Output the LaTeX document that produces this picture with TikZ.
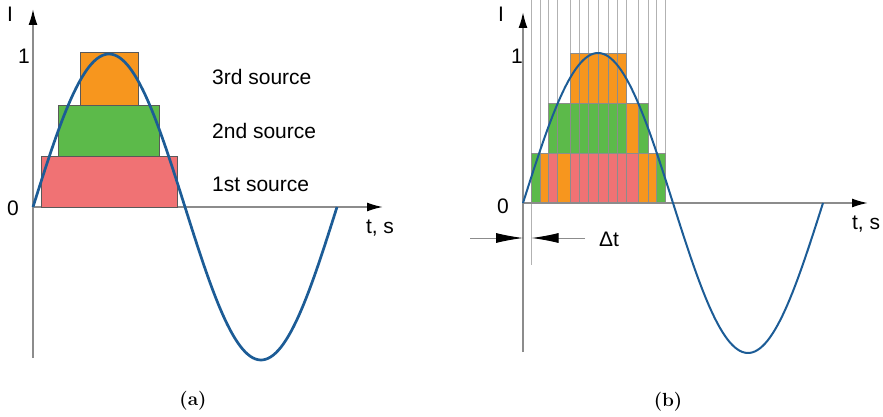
\documentclass[tikz,border=0pt]{standalone}
\usepackage{fontspec}
\setsansfont{Liberation Sans}
\usetikzlibrary{arrows.meta}
\definecolor{wavecol}{RGB}{28,92,150}
\definecolor{ora}{RGB}{247,150,30}
\definecolor{grn}{RGB}{92,186,74}
\definecolor{rd}{RGB}{240,114,116}
\definecolor{axgray}{RGB}{140,140,140}
\tikzset{
  axisline/.style={draw=axgray,line width=1.8pt,-{Latex[length=16pt,width=9pt,color=black]}},
  src/.style={draw=black!65,line width=1pt},
  cell/.style={draw=black!45,line width=1pt},
  gridline/.style={draw=black!30,line width=0.7pt},
  wave/.style={draw=wavecol,line width=2pt},
  lbl/.style={font=\sffamily\fontsize{21}{25}\selectfont,inner sep=0pt},
  dimline/.style={draw=axgray,line width=0.9pt,-{Latex[length=27pt,width=10pt,color=black]}},
  sublbl/.style={font=\bfseries\fontsize{19}{22}\selectfont,inner sep=0pt}
}
\begin{document}
\begin{tikzpicture}[x=1pt,y=-1pt]
\useasboundingbox (0,0) rectangle (883,417);
% (a) three sources
\draw[axisline] (33,358) -- (33,9);
\draw[axisline] (33,207) -- (383,207);
\draw[src,fill=rd] (41,156) rectangle (177,207);
\draw[src,fill=grn] (58,106) rectangle (159,156);
\draw[src,fill=ora] (80,53) rectangle (138,106);
\draw[wave,line width=2.7pt] plot[domain=0:360,samples=120] ({33+\x/360*304},{207-153*sin(\x)});
\node[lbl] (ia) at (10,14) {I};
\node[lbl] (onea) at (24,56) {1};
\node[lbl] (zeroa) at (13,208) {0};
\node[lbl] (ta) at (380,228) {t, s};
\node[lbl,anchor=west] (third) at (212,77) {3rd source};
\node[lbl,anchor=west] (second) at (212,131) {2nd source};
\node[lbl,anchor=west] (first) at (212,184) {1st source};
\node[sublbl] (capa) at (193,401) {(a)};
% (b) time slices
\foreach \gx in {540,548.5,557.5,570,579,588.5,598.5,608,617,626.5,638.5,648,656.5,665}
  \draw[gridline] (\gx,0) -- (\gx,203);
\draw[gridline] (531.5,0) -- (531.5,265);
\foreach \xa/\xb/\c in {531.5/540/grn,540/548.5/ora,548.5/557.5/rd,557.5/570/ora,
    570/579/rd,579/588.5/rd,588.5/598.5/rd,598.5/608/rd,608/617/rd,617/626.5/rd,
    626.5/638.5/rd,638.5/648/ora,648/656.5/ora,656.5/665/grn}
  \draw[cell,fill=\c] (\xa,153.5) rectangle (\xb,203);
\foreach \xa/\xb/\c in {548.5/557.5/grn,557.5/570/grn,570/579/grn,579/588.5/grn,
    588.5/598.5/grn,598.5/608/grn,608/617/grn,617/626.5/grn,626.5/638.5/ora,638.5/648/grn}
  \draw[cell,fill=\c] (\xa,104) rectangle (\xb,153.5);
\foreach \xa/\xb in {570/579,579/588.5,588.5/598.5,598.5/608,608/617,617/626.5}
  \draw[cell,fill=ora] (\xa,53.5) rectangle (\xb,104);
\draw[axisline] (523,352) -- (523,12);
\draw[axisline] (523,203) -- (868,203);
\draw[wave] plot[domain=0:360,samples=120] ({523+\x/360*300},{203-150*sin(\x)});
\coordinate (dl) at (470,238);
\coordinate (dr) at (585,238);
\draw[dimline] (dl) -- (523,238);
\draw[dimline] (dr) -- (531.5,238);
\node[lbl] (dt) at (609,239) {Δt};
\node[lbl] (ib) at (501,14) {I};
\node[lbl] (oneb) at (517,56) {1};
\node[lbl] (zerob) at (503,206) {0};
\node[lbl] (tb) at (866,224) {t, s};
\node[sublbl] (capb) at (668,402) {(b)};
\end{tikzpicture}
\end{document}
